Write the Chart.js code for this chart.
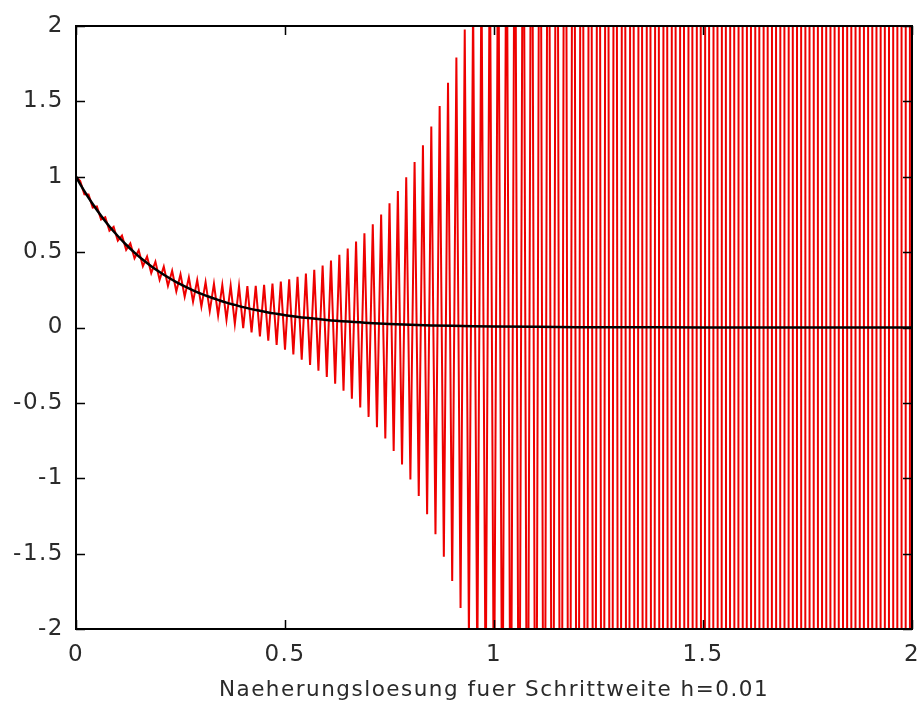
<!DOCTYPE html>
<html>
<head>
<meta charset="utf-8">
<script src="https://cdn.jsdelivr.net/npm/chart.js@4.4.1/dist/chart.umd.min.js"></script>
<style>
  body { margin: 0; background: #fff; }
</style>
</head>
<body>
<canvas id="solutionPlot" width="924" height="706"></canvas>
<script>
// STEP GRID (h = 0.01)
var tSteps = [
  0, 0.01, 0.02, 0.03, 0.04, 0.05, 0.06, 0.07, 0.08, 0.09,
  0.1, 0.11, 0.12, 0.13, 0.14, 0.15, 0.16, 0.17, 0.18, 0.19,
  0.2, 0.21, 0.22, 0.23, 0.24, 0.25, 0.26, 0.27, 0.28, 0.29,
  0.3, 0.31, 0.32, 0.33, 0.34, 0.35, 0.36, 0.37, 0.38, 0.39,
  0.4, 0.41, 0.42, 0.43, 0.44, 0.45, 0.46, 0.47, 0.48, 0.49,
  0.5, 0.51, 0.52, 0.53, 0.54, 0.55, 0.56, 0.57, 0.58, 0.59,
  0.6, 0.61, 0.62, 0.63, 0.64, 0.65, 0.66, 0.67, 0.68, 0.69,
  0.7, 0.71, 0.72, 0.73, 0.74, 0.75, 0.76, 0.77, 0.78, 0.79,
  0.8, 0.81, 0.82, 0.83, 0.84, 0.85, 0.86, 0.87, 0.88, 0.89,
  0.9, 0.91, 0.92, 0.93, 0.94, 0.95, 0.96, 0.97, 0.98, 0.99,
  1, 1.01, 1.02, 1.03, 1.04, 1.05, 1.06, 1.07, 1.08, 1.09,
  1.1, 1.11, 1.12, 1.13, 1.14, 1.15, 1.16, 1.17, 1.18, 1.19,
  1.2, 1.21, 1.22, 1.23, 1.24, 1.25, 1.26, 1.27, 1.28, 1.29,
  1.3, 1.31, 1.32, 1.33, 1.34, 1.35, 1.36, 1.37, 1.38, 1.39,
  1.4, 1.41, 1.42, 1.43, 1.44, 1.45, 1.46, 1.47, 1.48, 1.49,
  1.5, 1.51, 1.52, 1.53, 1.54, 1.55, 1.56, 1.57, 1.58, 1.59,
  1.6, 1.61, 1.62, 1.63, 1.64, 1.65, 1.66, 1.67, 1.68, 1.69,
  1.7, 1.71, 1.72, 1.73, 1.74, 1.75, 1.76, 1.77, 1.78, 1.79,
  1.8, 1.81, 1.82, 1.83, 1.84, 1.85, 1.86, 1.87, 1.88, 1.89,
  1.9, 1.91, 1.92, 1.93, 1.94, 1.95, 1.96, 1.97, 1.98, 1.99,
  2
];

// NAEHERUNG (red, oscillating)
var approxY = [
  1, 0.971, 0.884, 0.883, 0.796, 0.803, 0.716, 0.732, 0.642, 0.668,
  0.576, 0.61, 0.515, 0.558, 0.459, 0.512, 0.407, 0.471, 0.361, 0.436,
  0.317, 0.404, 0.276, 0.376, 0.239, 0.353, 0.204, 0.332, 0.171, 0.315,
  0.139, 0.301, 0.109, 0.29, 0.08, 0.282, 0.051, 0.277, 0.024, 0.274,
  -0.004, 0.275, -0.032, 0.277, -0.059, 0.283, -0.088, 0.292, -0.116, 0.304,
  -0.147, 0.319, -0.179, 0.337, -0.213, 0.358, -0.248, 0.383, -0.287, 0.411,
  -0.328, 0.444, -0.373, 0.482, -0.42, 0.524, -0.473, 0.571, -0.531, 0.625,
  -0.593, 0.684, -0.661, 0.75, -0.736, 0.824, -0.819, 0.905, -0.909, 0.996,
  -1.009, 1.097, -1.118, 1.209, -1.239, 1.333, -1.372, 1.47, -1.52, 1.623,
  -1.682, 1.791, -1.861, 1.977, -2.059, 2.18, -2.28, 2.4, -2.52, 2.65,
  -2.79, 2.93, -3.08, 3.24, -3.41, 3.58, -3.77, 3.96, -4.16, 4.38,
  -4.6, 4.84, -5.08, 5.34, -5.62, 5.91, -6.21, 6.53, -6.86, 7.21,
  -7.58, 7.97, -8.4, 8.8, -9.3, 9.7, -10.2, 10.8, -11.3, 11.9,
  -12.5, 13.2, -13.8, 14.5, -15.3, 16.1, -16.9, 17.8, -18.7, 19.6,
  -20.6, 21.7, -22.8, 24, -25.2, 26.5, -27.9, 29.3, -30.8, 32.4,
  -34, 35.8, -37.6, 39.5, -41.6, 43.7, -45.9, 48.3, -50.8, 53.4,
  -56, 59, -62, 65, -69, 72, -76, 80, -84, 88,
  -93, 97, -102, 108, -113, 119, -125, 132, -138, 145,
  -153, 161, -169, 178, -187, 196, -206, 217, -228, 240,
  -252, 265, -279, 293, -308, 324, -341, 358, -377, 396,
  -416
];

// EXAKTE LOESUNG (black)
var exactT = [0, 0.02, 0.04, 0.06, 0.08, 0.1, 0.12, 0.14, 0.16, 0.18, 0.2, 0.22, 0.24, 0.26, 0.28, 0.3,
  0.32, 0.34, 0.36, 0.38, 0.4, 0.42, 0.44, 0.46, 0.48, 0.5, 0.55, 0.6, 0.65, 0.7, 0.8, 0.9, 1, 1.2, 1.4, 1.6, 1.8, 2];
var exactY = [1, 0.905, 0.819, 0.741, 0.67, 0.607, 0.549, 0.497, 0.449, 0.407, 0.368, 0.333, 0.301, 0.273, 0.247, 0.223,
  0.202, 0.183, 0.165, 0.15, 0.135, 0.122, 0.111, 0.1, 0.091, 0.082, 0.064, 0.05, 0.039, 0.03, 0.018, 0.011, 0.007, 0.002, 0.001, 0, 0, 0];

var xLabel = "Naeherungsloesung fuer Schrittweite h=0.01";

Chart.defaults.font.family = "'DejaVu Sans', 'Liberation Sans', sans-serif";
Chart.defaults.font.size = 23;
Chart.defaults.color = "#2a2a2a";

function pairs(xs, ys) {
  return xs.map(function (x, i) { return { x: x, y: ys[i] }; });
}

function plainNumber(v) {
  return String(v);
}

// wider lettering like the original plot fonts
var spacing = {
  id: "spacing",
  beforeLayout: function (chart) { chart.ctx.letterSpacing = "1.5px"; },
  beforeDraw: function (chart) { chart.ctx.letterSpacing = "1.5px"; },
};

// box with inward tick marks on all four sides
var boxTicks = {
  id: "boxTicks",
  afterDatasetsDraw: function (chart) {
    var ctx = chart.ctx;
    var a = chart.chartArea;
    var xs = chart.scales.x;
    var ys = chart.scales.y;
    var len = 9;
    ctx.save();
    ctx.strokeStyle = "#000";
    ctx.lineWidth = 1.5;
    ctx.beginPath();
    xs.ticks.forEach(function (t) {
      var px = Math.round(xs.getPixelForValue(t.value)) + 0.5;
      ctx.moveTo(px, a.bottom); ctx.lineTo(px, a.bottom - len);
      ctx.moveTo(px, a.top); ctx.lineTo(px, a.top + len);
    });
    ys.ticks.forEach(function (t) {
      var py = Math.round(ys.getPixelForValue(t.value)) + 0.5;
      ctx.moveTo(a.left, py); ctx.lineTo(a.left + len, py);
      ctx.moveTo(a.right, py); ctx.lineTo(a.right - len, py);
    });
    ctx.stroke();
    ctx.lineWidth = 2;
    ctx.strokeRect(a.left, a.top, a.right - a.left, a.bottom - a.top);
    ctx.restore();
  }
};

new Chart("solutionPlot", {
  type: "line",
  data: {
    datasets: [
      {
        data: pairs(exactT, exactY),
        borderColor: "#000",
        borderWidth: 2.5,
        pointRadius: 0,
        tension: 0.3,
      },
      {
        data: pairs(tSteps, approxY),
        borderColor: "#ee0000",
        borderWidth: 2,
        pointRadius: 0,
        tension: 0,
        clip: 0,
      },
    ],
  },
  options: {
    responsive: false,
    animation: false,
    devicePixelRatio: 1,
    layout: { padding: { top: 26, right: 12, left: 0, bottom: 0 } },
    plugins: {
      legend: { display: false },
      tooltip: { enabled: false },
    },
    scales: {
      x: {
        type: "linear",
        min: 0,
        max: 2,
        ticks: { stepSize: 0.5, padding: 12, maxRotation: 0, callback: plainNumber },
        grid: { display: false, drawTicks: false },
        border: { display: false },
        title: { display: true, text: xLabel, font: { size: 21.5 }, padding: { top: 0, bottom: 3 } },
        afterFit: function (s) {
          s.height = 77;
          s.paddingLeft = 0;
          s.paddingRight = 0;
        },
      },
      y: {
        type: "linear",
        min: -2,
        max: 2,
        ticks: { stepSize: 0.5, padding: 12, callback: plainNumber },
        grid: { display: false, drawTicks: false },
        border: { display: false },
        afterFit: function (s) { s.width = 76; },
      },
    },
  },
  plugins: [spacing, boxTicks],
});
</script>
</body>
</html>
